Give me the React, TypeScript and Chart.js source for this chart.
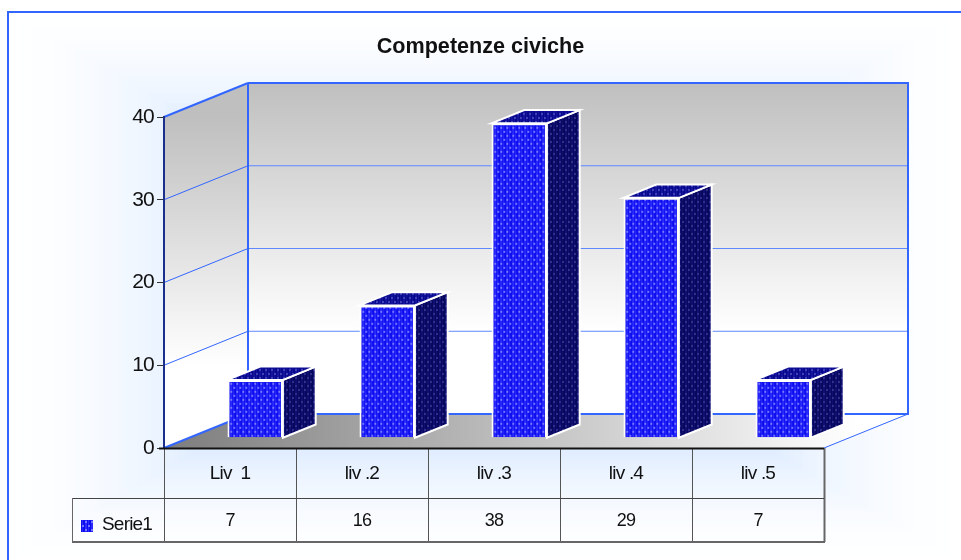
import React, { useEffect, useRef } from "react";
import { Chart, registerables } from "chart.js";

Chart.register(...registerables);

const categories = ["Liv  1", "liv .2", "liv .3", "liv .4", "liv .5"];
const seriesName = "Serie1";
const seriesValues = [7, 16, 38, 29, 7];
const yTicks = [0, 10, 20, 30, 40];

const BLUE = "#3366ff";
const DEPTH_X = 84;
const DEPTH_Y = 34;
const BAR_NEAR = 0.3;
const BAR_FAR = 0.69;
const TABLE_ROW1 = 498;
const TABLE_ROW2 = 542;
const TABLE_LEFT = 72;
const TEXT_SPACING = "-0.8px";

// page wash: [distance from centre, red, green, blue]
const washStops = [
  [0.3, 218, 233, 255],
  [0.62, 226, 238, 255],
  [0.72, 239, 246, 255],
  [0.82, 247, 250, 255],
  [0.92, 252, 254, 255],
  [1, 255, 255, 255],
];

function washColor(t: number) {
  for (let i = 1; i < washStops.length; i++) {
    const a = washStops[i - 1];
    const b = washStops[i];
    if (t <= b[0]) {
      const k = Math.max(0, (t - a[0]) / (b[0] - a[0]));
      return `rgb(${a[1] + (b[1] - a[1]) * k},${a[2] + (b[2] - a[2]) * k},${a[3] + (b[3] - a[3]) * k})`;
    }
  }
  return "#ffffff";
}

function makePattern(base: string, dot: string, soft: string) {
  const c = document.createElement("canvas");
  c.width = 6;
  c.height = 8;
  const g = c.getContext("2d")!;
  g.fillStyle = base;
  g.fillRect(0, 0, 6, 8);
  g.fillStyle = soft;
  g.fillRect(1, 0, 2, 8);
  g.fillRect(4, 0, 1, 8);
  g.fillStyle = dot;
  g.fillRect(1, 1, 2, 2);
  g.fillRect(4, 5, 2, 2);
  return g.createPattern(c, "repeat")!;
}

function poly(ctx: CanvasRenderingContext2D, pts: number[][]) {
  ctx.beginPath();
  pts.forEach((p, i) => (i ? ctx.lineTo(p[0], p[1]) : ctx.moveTo(p[0], p[1])));
  ctx.closePath();
}

function line(ctx: CanvasRenderingContext2D, x1: number, y1: number, x2: number, y2: number, color: string, w: number) {
  ctx.strokeStyle = color;
  ctx.lineWidth = w;
  ctx.beginPath();
  ctx.moveTo(x1, y1);
  ctx.lineTo(x2, y2);
  ctx.stroke();
}

const stage = {
  id: "stage",
  beforeDraw(chart: any) {
    const { ctx, width, height, chartArea: a, scales } = chart;
    const y = scales.y;
    ctx.letterSpacing = "0px";
    ctx.save();
    ctx.fillStyle = "#ffffff";
    ctx.fillRect(0, 0, width, height);
    // rectangular wash, outer to inner
    const cx = 484, cy = 286, hw = 476, hh = 274;
    for (let t = 1; t >= 0.3; t -= 0.01) {
      ctx.fillStyle = washColor(t);
      ctx.fillRect(cx - hw * t, cy - hh * t, 2 * hw * t, 2 * hh * t);
    }
    // frame
    line(ctx, 8, 12, width, 12, BLUE, 2);
    line(ctx, 8, 11, 8, height, BLUE, 2);

    const top = y.getPixelForValue(40);
    const bottom = y.getPixelForValue(0);
    const L = a.left, R = a.right;
    const dx = DEPTH_X, dy = DEPTH_Y;

    const wall = ctx.createLinearGradient(0, top - dy, 0, bottom - dy);
    wall.addColorStop(0, "#bfbfbf");
    wall.addColorStop(0.75, "#ffffff");
    wall.addColorStop(1, "#ffffff");
    ctx.fillStyle = wall;
    ctx.fillRect(L + dx, top - dy, R - L, bottom - top);
    const side = ctx.createLinearGradient(0, top, 0, bottom);
    side.addColorStop(0, "#bfbfbf");
    side.addColorStop(0.75, "#ffffff");
    side.addColorStop(1, "#ffffff");
    ctx.fillStyle = side;
    poly(ctx, [[L, top], [L + dx, top - dy], [L + dx, bottom - dy], [L, bottom]]);
    ctx.fill();
    const fl = ctx.createLinearGradient(L, 0, R + dx * 0.4, 0);
    fl.addColorStop(0, "#7d7d7d");
    fl.addColorStop(1, "#ffffff");
    ctx.fillStyle = fl;
    poly(ctx, [[L, bottom], [L + dx, bottom - dy], [R + dx, bottom - dy], [R, bottom]]);
    ctx.fill();

    yTicks.forEach((t) => {
      if (t === 0 || t === 40) return;
      const p = y.getPixelForValue(t);
      line(ctx, L, p, L + dx, p - dy, BLUE, 1);
      line(ctx, L + dx, p - dy, R + dx, p - dy, "#5f88ff", 1);
    });
    line(ctx, L, top, L + dx, top - dy, BLUE, 2);
    line(ctx, L + dx, top - dy, R + dx, top - dy, BLUE, 2);
    line(ctx, R + dx, top - dy - 1, R + dx, bottom - dy + 1, BLUE, 2);
    line(ctx, L + dx, top - dy, L + dx, bottom - dy, BLUE, 2);
    line(ctx, L + dx, bottom - dy, R + dx, bottom - dy, BLUE, 2);
    line(ctx, L, bottom, L + dx, bottom - dy, BLUE, 2);
    line(ctx, R, bottom, R + dx, bottom - dy, BLUE, 1);
    ctx.restore();
  },
  afterDatasetsDraw(chart: any) {
    // axis tick labels are drawn after this point (ticks.z = 1)
    chart.ctx.letterSpacing = TEXT_SPACING;
  },
  afterDraw(chart: any) {
    const { ctx, chartArea: a, scales } = chart;
    const x = scales.x;
    const step = x.getPixelForValue(1) - x.getPixelForValue(0);
    const bottom = a.bottom;
    ctx.save();
    const edges = categories.map((_, i) => x.getPixelForValue(i) - step / 2);
    edges.push(a.right);
    edges.forEach((e, i) => {
      const edge = Math.round(e) + 0.5;
      line(ctx, edge, bottom, edge, TABLE_ROW2, i === edges.length - 1 ? "#666666" : "#555555", i === edges.length - 1 ? 2 : 1);
    });
    line(ctx, TABLE_LEFT, TABLE_ROW1 + 0.5, a.right, TABLE_ROW1 + 0.5, "#444444", 1);
    line(ctx, TABLE_LEFT, TABLE_ROW2, a.right + 1, TABLE_ROW2, "#666666", 2);
    line(ctx, TABLE_LEFT + 0.5, TABLE_ROW1, TABLE_LEFT + 0.5, TABLE_ROW2, "#666666", 1);
    line(ctx, a.left - 5, bottom + 0.5, a.right, bottom + 0.5, "#111111", 2);
    ctx.fillStyle = "#111111";
    ctx.font = '18px "Liberation Sans"';
    ctx.textAlign = "center";
    ctx.textBaseline = "middle";
    seriesValues.forEach((v, i) => ctx.fillText(String(v), x.getPixelForValue(i), 521));
    ctx.fillStyle = chart.$front;
    if (chart.$front) ctx.fillRect(81, 520, 12, 12);
    ctx.fillStyle = "#111111";
    ctx.textAlign = "left";
    ctx.font = '19px "Liberation Sans"';
    ctx.fillText(seriesName, 102, 525);
    ctx.restore();
    ctx.letterSpacing = "0px";
  },
  beforeDatasetDraw(chart: any, args: any) {
    const { ctx, scales } = chart;
    const meta = chart.getDatasetMeta(args.index);
    const base = scales.y.getPixelForValue(0);
    const nearX = DEPTH_X * BAR_NEAR, nearY = DEPTH_Y * BAR_NEAR;
    const farX = DEPTH_X * BAR_FAR, farY = DEPTH_Y * BAR_FAR;
    const ddx = farX - nearX, ddy = farY - nearY;
    ctx.save();
    meta.data.forEach((bar: any) => {
      const left = bar.x - bar.width / 2 + nearX;
      const right = bar.x + bar.width / 2 + nearX;
      const t = bar.y - nearY;
      const b = base - nearY;
      ctx.lineWidth = 2;
      ctx.strokeStyle = "#ffffff";
      ctx.lineJoin = "miter";
      ctx.fillStyle = chart.$side || "#08086e";
      poly(ctx, [[right, t], [right + ddx, t - ddy], [right + ddx, b - ddy], [right, b]]);
      ctx.fill();
      ctx.stroke();
      ctx.fillStyle = chart.$top || "#0a0a9a";
      poly(ctx, [[left, t], [left + ddx, t - ddy], [right + ddx, t - ddy], [right, t]]);
      ctx.fill();
      ctx.stroke();
    });
    ctx.restore();
    ctx.save();
    ctx.translate(nearX, -nearY);
  },
  afterDatasetDraw(chart: any) {
    chart.ctx.restore();
  },
};

export default function App() {
  const ref = useRef<HTMLCanvasElement>(null);
  useEffect(() => {
    const front = makePattern("#0c0cee", "#7474ff", "#2a2aff");
    const side = makePattern("#07075e", "#30308a", "#101072");
    const top = makePattern("#08088c", "#4040b8", "#14149e");
    const chart: any = new Chart(ref.current!, {
      type: "bar",
      data: {
        labels: categories,
        datasets: [
          {
            label: seriesName,
            data: seriesValues,
            yAxisID: "y",
            backgroundColor: front,
            borderColor: "#ffffff",
            borderWidth: 2,
            categoryPercentage: 1,
            barPercentage: 0.42,
            clip: false,
          } as any,
        ],
      },
      options: {
        responsive: false,
        animation: false,
        events: [],
        layout: { padding: 0 },
        plugins: {
          legend: { display: false },
          tooltip: { enabled: false },
          title: {
            display: true,
            text: "Competenze civiche",
            color: "#111111",
            font: { family: '"Liberation Sans"', size: 21.6, weight: "bold", lineHeight: 1.2 },
            padding: { top: 34, bottom: 57.08 },
          },
        },
        scales: {
          x: {
            grid: { display: false },
            border: { display: false },
            afterFit: (s: any) => {
              s.height = 112;
            },
            ticks: {
              z: 1,
              color: "#111111",
              maxRotation: 0,
              autoSkip: false,
              padding: 6,
              font: { family: '"Liberation Sans"', size: 19 },
            },
          },
          y: {
            min: 0,
            max: 40,
            afterFit: (s: any) => {
              s.width = 164;
            },
            grid: { drawOnChartArea: false, drawTicks: true, tickLength: 7, color: "#333333" },
            border: { display: true, color: "#1a2f8c", width: 2 },
            ticks: {
              z: 1,
              stepSize: 10,
              color: "#111111",
              padding: 3,
              font: { family: '"Liberation Sans"', size: 21 },
            },
          },
          // empty axis: reserves the room right of the front plane
          spacer: {
            position: "right",
            min: 0,
            max: 40,
            afterFit: (s: any) => {
              s.width = 137;
            },
            grid: { display: false },
            border: { display: false },
            ticks: { display: false },
          },
        },
      },
      plugins: [stage],
    });
    chart.$front = front;
    chart.$side = side;
    chart.$top = top;
    chart.draw();
    return () => chart.destroy();
  }, []);
  return (
    <div style={{ position: "absolute", left: 0, top: 0, width: 961, height: 560 }}>
      <canvas ref={ref} width={961} height={560} style={{ display: "block" }} />
    </div>
  );
}
